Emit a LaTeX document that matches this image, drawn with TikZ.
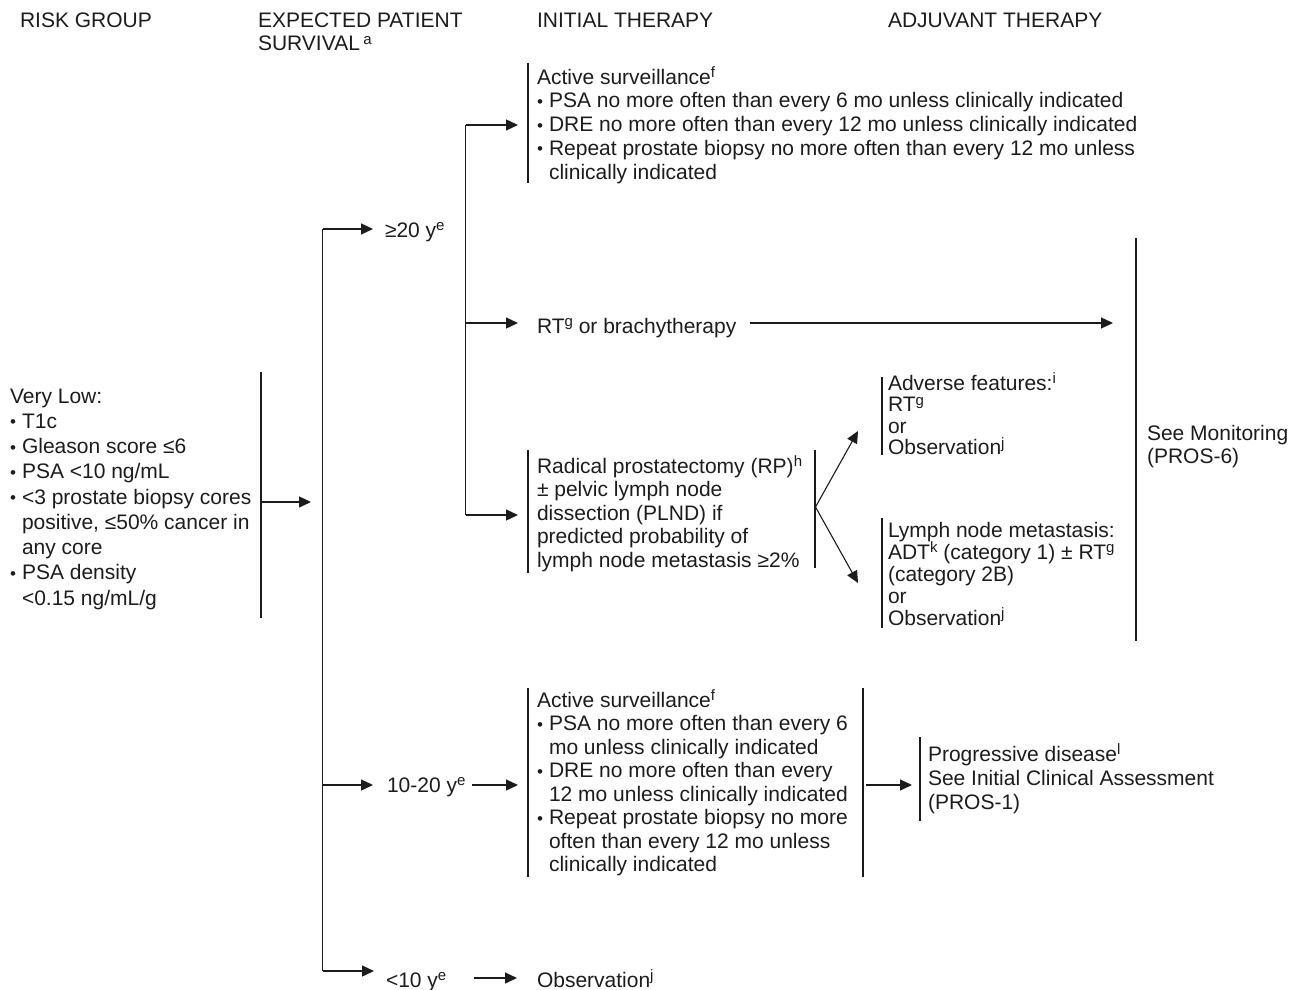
\documentclass[tikz,border=0pt]{standalone}
\usepackage{fontspec}
\setmainfont{Liberation Sans}
\usetikzlibrary{arrows.meta}
\definecolor{ink}{HTML}{1E1B1C}
% raised footnote letter
\newcommand\spx[1]{\raisebox{6.5pt}{\fontsize{15}{15}\selectfont #1}}
% bullet and hanging indent for list lines
\newcommand\bul{\makebox[12pt][l]{\raisebox{0.5pt}{\fontsize{17}{17}\selectfont •}}}
\newcommand\ind{\hspace*{12pt}}
% multi-line nodes are anchored at the baseline of their last line
\tikzset{
  txt/.style={anchor=base west, inner sep=0pt, outer sep=0pt, align=left,
              font=\fontsize{21}{23.5}\selectfont, text=ink},
  arr/.style={-{Triangle[length=12pt,width=11pt]}, line width=1.3pt, draw=ink},
  link/.style={line width=1.3pt, draw=ink},
  bar/.style={line width=1.1pt, draw=ink},
}
\begin{document}
\begin{tikzpicture}[x=1pt,y=-1pt]
\useasboundingbox (0,0) rectangle (1290,990);

% column headings
\node[txt] (hRisk) at (20,27.5) {RISK GROUP};
\node[txt] (hSurv) at (258,51) {EXPECTED PATIENT\\SURVIVAL\,\spx{a}};
\node[txt] (hInit) at (537,27.5) {INITIAL THERAPY};
\node[txt] (hAdj)  at (888,27.5) {ADJUVANT THERAPY};

% risk group
\node[txt, font=\fontsize{21}{25.25}\selectfont] (vlow) at (10,605)
  {Very Low:\\ \bul T1c\\ \bul Gleason score ≤6\\ \bul PSA <10 ng/mL\\
   \bul <3 prostate biopsy cores\\ \ind positive, ≤50\% cancer in\\ \ind any core\\
   \bul PSA density\\ \ind <0.15 ng/mL/g};
\draw[bar] (261,372) -- (261,618);
\coordinate (vlowOut) at (262,502);
\coordinate (trunkIn) at (311,502);
\draw[arr] (vlowOut) -- (trunkIn);

% survival trunk
\coordinate (trTop) at (322.5,229);
\coordinate (trMid) at (322.5,785);
\coordinate (trBot) at (322.5,971);
\draw[link] (trTop) -- (trBot);

\node[txt] (ge20) at (385,237) {≥20 y\spx{e}};
\node[txt] (m1020) at (387,792) {10-20 y\spx{e}};
\node[txt] (lt10) at (386,987) {<10 y\spx{e}};
\draw[arr] (trTop) -- (373,229);
\draw[arr] (trMid) -- (373,785);
\draw[arr] (trBot) -- (374,971);

% initial therapy, >=20 y
\coordinate (brTop) at (465.5,125);
\coordinate (brRT) at (465.5,323);
\coordinate (brRP) at (465.5,515);
\draw[link] (brTop) -- (brRP);

\node[txt, font=\fontsize{21}{23.75}\selectfont] (as1) at (537,179)
  {Active surveillance\spx{f}\\
   \bul PSA no more often than every 6 mo unless clinically indicated\\
   \bul DRE no more often than every 12 mo unless clinically indicated\\
   \bul Repeat prostate biopsy no more often than every 12 mo unless\\
   \ind clinically indicated};
\draw[bar] (528,63) -- (528,183);
\draw[arr] (brTop) -- (518,125);

\node[txt] (rt) at (537,333) {RT\spx{g} or brachytherapy};
\draw[arr] (brRT) -- (518,323);

\node[txt, font=\fontsize{21}{23.5}\selectfont] (rp) at (537,567)
  {Radical prostatectomy (RP)\spx{h}\\± pelvic lymph node\\dissection (PLND) if\\
   predicted probability of\\lymph node metastasis ≥2\%};
\draw[bar] (528,450) -- (528,573);
\draw[bar] (815,450) -- (815,568);
\draw[arr] (brRP) -- (518,515);

% adjuvant therapy after RP
\coordinate (rpOut) at (815.5,507);
\node[txt, font=\fontsize{21}{21.5}\selectfont] (adv) at (888,454.5)
  {Adverse features:\spx{i}\\RT\spx{g}\\or\\Observation\spx{j}};
\draw[bar] (882,377) -- (882,455);
\node[txt, font=\fontsize{21}{22}\selectfont] (lnm) at (888,625)
  {Lymph node metastasis:\\ADT\spx{k} (category 1) ± RT\spx{g}\\(category 2B)\\or\\Observation\spx{j}};
\draw[bar] (882,518) -- (882,628);
\draw[arr, line width=1.1pt] (rpOut) -- (858,431);
\draw[arr, line width=1.1pt] (rpOut) -- (858,583);

% monitoring
\coordinate (monIn) at (1113,323);
\draw[bar] (1136,238) -- (1136,641);
\node[txt] (mon) at (1147,463.5) {See Monitoring\\(PROS-6)};
\draw[arr] (750,323) -- (monIn);

% initial therapy, 10-20 y
\node[txt, font=\fontsize{21}{23.5}\selectfont] (as2) at (537,871.5)
  {Active surveillance\spx{f}\\
   \bul PSA no more often than every 6\\ \ind mo unless clinically indicated\\
   \bul DRE no more often than every\\ \ind 12 mo unless clinically indicated\\
   \bul Repeat prostate biopsy no more\\ \ind often than every 12 mo unless\\
   \ind clinically indicated};
\draw[bar] (528,688) -- (528,877);
\draw[bar] (863,688) -- (863,877);
\draw[arr] (472,785) -- (518,785);

\node[txt, font=\fontsize{21}{24}\selectfont] (prog) at (928,809)
  {Progressive disease\spx{l}\\See Initial Clinical Assessment\\(PROS-1)};
\draw[bar] (920,737) -- (920,821);
\draw[arr] (866,785) -- (912,785);

% initial therapy, <10 y
\node[txt] (obs) at (537,987) {Observation\spx{j}};
\draw[arr] (474,978) -- (517,978);
\end{tikzpicture}
\end{document}
